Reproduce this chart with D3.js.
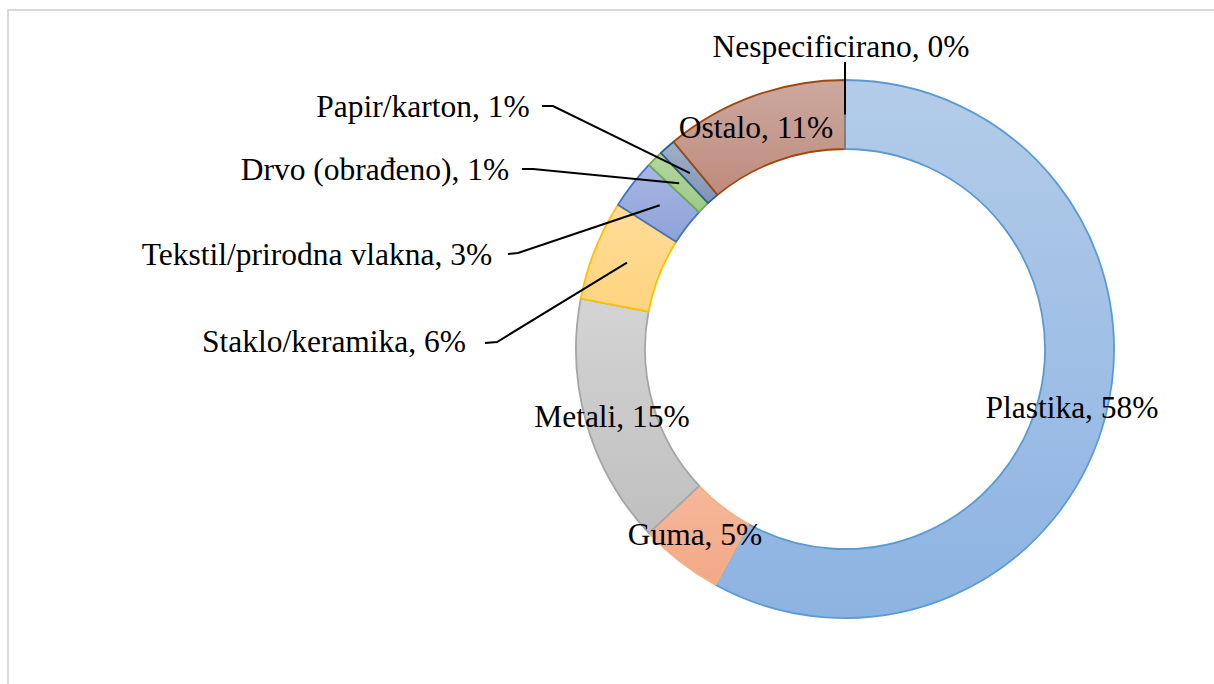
<!DOCTYPE html>
<html>
<head>
<meta charset="utf-8">
<script src="https://cdn.jsdelivr.net/npm/d3@7"></script>
<style>
  html, body { margin: 0; padding: 0; background: #fff; }
  svg { display: block; }
  text { font-family: "Liberation Serif", "Times New Roman", serif; font-size: 31.5px; fill: #000; }
</style>
</head>
<body>
<svg id="chart" width="1214" height="684"></svg>
<script>
// Waste composition by material (share of items, %)
const categories = [
  "Plastika", "Guma", "Metali", "Staklo/keramika", "Tekstil/prirodna vlakna",
  "Drvo (obrađeno)", "Papir/karton", "Ostalo", "Nespecificirano"
];
const shares = [58, 5, 15, 6, 3, 1, 1, 11, 0];
const labels = categories.map((c, i) => `${c}, ${shares[i]}%`);

// Slice colours: gradient top, gradient bottom, outline
const fillTop    = ["#b3cce9", "#f5b89a", "#d4d4d4", "#ffdc98", "#a9b7e2", "#b4d6a1", "#a0b0c8", "#cca89f", "#9e9e9e"];
const fillBottom = ["#8db3e2", "#f3a887", "#bfbfbf", "#fed47e", "#8ca2d8", "#9dca86", "#8094b6", "#bf8b7d", "#9e9e9e"];
const outline    = ["#5b9bd5", "#f4b183", "#a5a5a5", "#ffc000", "#4472c4", "#70ad47", "#2f5f8f", "#9e480e", "#7f7f7f"];

// Layout
const W = 1214, H = 684;
const cx = 845, cy = 349;
const rOuter = 269, rInner = 200;

// Label anchor points relative to the centre (text-anchor middle, baseline)
const labelPos = [
  [227, 69], [-150, 196], [-233, 78], [-511, 3], [-528, -84],
  [-470, -169], [-422, -232], [-89, -211], [-4, -292]
];
// Labels that sit outside the ring get a leader line: [x offset of line start, y offset]
const leaderStart = {
  3: [-360, -6], 4: [-337, -95], 5: [-323, -180], 6: [-303, -243], 8: [0, -287]
};
const leaderElbow = {
  3: [-348, -7], 4: [-327, -96], 5: [-312, -180], 6: [-292, -243]
};

const svg = d3.select("#chart");

// Outer chart frame
svg.append("rect")
  .attr("x", 8).attr("y", 10)
  .attr("width", W).attr("height", H)
  .attr("fill", "none")
  .attr("stroke", "#d9d9d9")
  .attr("stroke-width", 2);

const defs = svg.append("defs");
categories.forEach((c, i) => {
  const g = defs.append("linearGradient")
    .attr("id", "grad" + i)
    .attr("x1", 0).attr("y1", 0).attr("x2", 0).attr("y2", 1);
  g.append("stop").attr("offset", "0%").attr("stop-color", fillTop[i]);
  g.append("stop").attr("offset", "100%").attr("stop-color", fillBottom[i]);
});

const pie = d3.pie().sort(null).value(d => d);
const arcs = pie(shares);
const arc = d3.arc().innerRadius(rInner).outerRadius(rOuter);

const root = svg.append("g").attr("transform", `translate(${cx},${cy})`);

root.selectAll("path.slice")
  .data(arcs)
  .join("path")
  .attr("class", "slice")
  .attr("d", arc)
  .attr("fill", (d, i) => `url(#grad${i})`)
  .attr("stroke", (d, i) => outline[i])
  .attr("stroke-width", 1.8)
  .attr("stroke-linejoin", "round");

// The empty category still gets a visible radial edge
const zero = arcs[8];
root.append("line")
  .attr("x1", 0).attr("y1", -rInner)
  .attr("x2", 0).attr("y2", -rOuter)
  .attr("stroke", outline[8])
  .attr("stroke-width", 2)
  .attr("transform", `rotate(${zero.startAngle * 180 / Math.PI})`);

// Leader lines from outside labels to the slice centroid
Object.keys(leaderStart).forEach(k => {
  const i = +k;
  const [ex, ey] = arc.centroid(arcs[i]);
  const pts = [leaderStart[i]];
  if (leaderElbow[i]) pts.push(leaderElbow[i]);
  pts.push([ex, ey]);
  root.append("path")
    .attr("d", d3.line()(pts))
    .attr("fill", "none")
    .attr("stroke", "#000")
    .attr("stroke-width", 2);
});

// Data labels
root.selectAll("text.lbl")
  .data(labels)
  .join("text")
  .attr("class", "lbl")
  .attr("x", (d, i) => labelPos[i][0])
  .attr("y", (d, i) => labelPos[i][1])
  .attr("text-anchor", "middle")
  .text(d => d);
</script>
</body>
</html>
